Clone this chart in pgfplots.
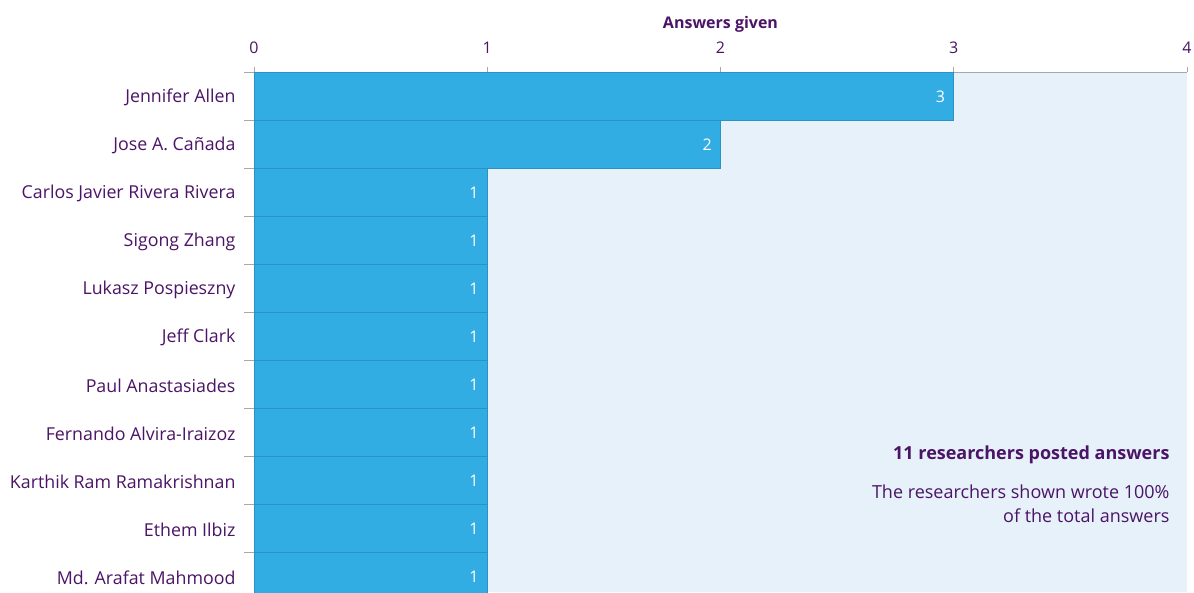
\documentclass[border=0pt]{standalone}
\usepackage{pgfplots}
\pgfplotsset{compat=1.18}
\usepackage{fontspec}
\setmainfont{Open Sans}
\definecolor{lab}{HTML}{4B1466}
\definecolor{barfill}{HTML}{32ADE3}
\definecolor{bardraw}{HTML}{2A93C4}
\definecolor{bg}{HTML}{E6F1FA}
\definecolor{axgray}{HTML}{A8A8A8}
\begin{document}
\begin{tikzpicture}
\useasboundingbox (0pt,0pt) rectangle (1194pt,-592pt);
\begin{axis}[
  at={(254pt,-72pt)}, anchor=north west,
  scale only axis, width=933pt, height=520pt,
  xmin=0, xmax=4, ymin=-0.33333, ymax=10.5,
  axis x line*=top, axis y line*=left,
  axis line style={axgray, line width=0.8pt},
  axis background/.style={fill=bg},
  /pgf/number format/assume math mode=true,
  xtick={0,1,2,3,4},
  tick align=outside,
  x tick style={axgray, line width=0.8pt},
  major tick length=5pt,
  xticklabel style={font=\fontsize{16}{19}\selectfont, text=lab, yshift=10pt},
  ytick={0,...,10},
  yticklabels={Md. Arafat Mahmood, Ethem Ilbiz, Karthik Ram Ramakrishnan, Fernando Alvira-Iraizoz, Paul Anastasiades, Jeff Clark, Lukasz Pospieszny, Sigong Zhang, Carlos Javier Rivera Rivera, Jose A. Cañada, Jennifer Allen},
  y tick style={draw=none},
  yticklabel style={font=\fontsize{17.8}{22}\selectfont, text=lab, anchor=east, xshift=-10pt, yshift=-1.5pt},
  extra y ticks={0.5,1.5,2.5,3.5,4.5,5.5,6.5,7.5,8.5,9.5,10.5},
  extra y tick labels={},
  extra y tick style={tick align=outside, major tick length=10pt, y tick style={draw=axgray, line width=0.8pt}},
  clip=false,
]
\addplot[xbar, bar width=1, bar shift=0pt, fill=barfill, draw=bardraw, line width=0.8pt,
  nodes near coords,
  nodes near coords style={anchor=east, xshift=-5pt, yshift=-1pt, text=white, font=\fontsize{16}{19}\selectfont}]
  coordinates {(1,0) (1,1) (1,2) (1,3) (1,4) (1,5) (1,6) (1,7) (1,8) (2,9) (3,10)};
\node[anchor=east, text=lab, font=\bfseries\fontsize{18}{22}\selectfont] at (axis cs:3.94,2.52) {11 researchers posted answers};
\node[anchor=east, align=right, text=lab, font=\fontsize{18}{24}\selectfont] at (axis cs:3.94,1.50) {The researchers shown wrote 100\%\\of the total answers};
\end{axis}
\node[text=lab, font=\bfseries\fontsize{16}{19}\selectfont] at (720.5pt,-24pt) {Answers given};
\end{tikzpicture}
\end{document}
